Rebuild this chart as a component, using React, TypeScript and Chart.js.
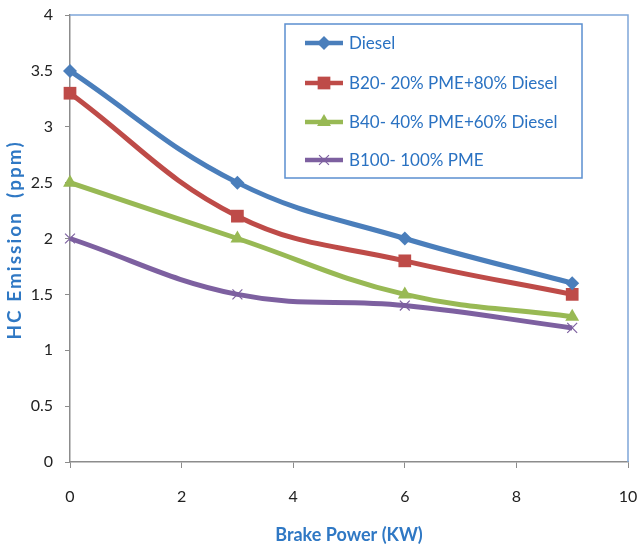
import React, { useEffect, useRef } from "react";
import { Chart, registerables } from "chart.js";

Chart.register(...registerables);

const brakePower = [0, 3, 6, 9];
const diesel = [3.5, 2.5, 2.0, 1.6];
const b20 = [3.3, 2.2, 1.8, 1.5];
const b40 = [2.5, 2.0, 1.5, 1.3];
const b100 = [2.0, 1.5, 1.4, 1.2];
const seriesNames = [
  "Diesel",
  "B20- 20% PME+80% Diesel",
  "B40- 40% PME+60% Diesel",
  "B100- 100% PME",
];
const seriesColors = ["#4a7ebb", "#be4b48", "#98b954", "#7d60a0"];
const seriesMarkers = ["rectRot", "rect", "triangle", "crossRot"];
const markerRadius = [7, 9, 8, 7];
const xTitle = "Brake Power (KW)";
const yTitle = "HC Emission  (ppm)";

const FONT = 'Lato, "Liberation Sans", Arial, sans-serif';
const TITLE_BLUE = "#2f78c4";

function drawMarker(ctx: CanvasRenderingContext2D, style: string, x: number, y: number, r: number, color: string) {
  ctx.save();
  ctx.fillStyle = color;
  ctx.strokeStyle = color;
  ctx.beginPath();
  if (style === "rectRot") {
    ctx.moveTo(x, y - r);
    ctx.lineTo(x + r, y);
    ctx.lineTo(x, y + r);
    ctx.lineTo(x - r, y);
    ctx.closePath();
    ctx.fill();
  } else if (style === "rect") {
    const s = r * Math.SQRT1_2;
    ctx.rect(x - s, y - s, 2 * s, 2 * s);
    ctx.fill();
  } else if (style === "triangle") {
    ctx.moveTo(x, y - r);
    ctx.lineTo(x + r * 0.87, y + r * 0.5);
    ctx.lineTo(x - r * 0.87, y + r * 0.5);
    ctx.closePath();
    ctx.fill();
  } else {
    const s = r * Math.SQRT1_2;
    ctx.lineWidth = 1.2;
    ctx.moveTo(x - s, y - s);
    ctx.lineTo(x + s, y + s);
    ctx.moveTo(x + s, y - s);
    ctx.lineTo(x - s, y + s);
    ctx.stroke();
  }
  ctx.restore();
}

const framePlugin = {
  id: "frameAndLegend",
  afterDraw(chart: any) {
    const { ctx, chartArea } = chart;
    ctx.save();
    // top and right frame
    ctx.strokeStyle = "#7fa6d9";
    ctx.lineWidth = 1.5;
    ctx.beginPath();
    ctx.moveTo(chartArea.left, chartArea.top);
    ctx.lineTo(chartArea.right, chartArea.top);
    ctx.lineTo(chartArea.right, chartArea.bottom);
    ctx.stroke();

    // y axis title
    ctx.save();
    ctx.translate(15, 241);
    ctx.rotate(-Math.PI / 2);
    ctx.fillStyle = TITLE_BLUE;
    ctx.font = `bold 19px ${FONT}`;
    ctx.textAlign = "center";
    ctx.textBaseline = "middle";
    const w0 = ctx.measureText(yTitle).width;
    const spacing = Math.min(2, Math.max(0, (205 - w0) / (yTitle.length - 1)));
    (ctx as any).letterSpacing = `${spacing.toFixed(2)}px`;
    ctx.fillText(yTitle, spacing / 2, 0);
    ctx.restore();

    // legend box
    const bx = 285, by = 24, bw = 297, bh = 154;
    ctx.fillStyle = "#ffffff";
    ctx.fillRect(bx, by, bw, bh);
    ctx.strokeStyle = "#5b8fd0";
    ctx.lineWidth = 1.5;
    ctx.strokeRect(bx, by, bw, bh);
    const rowY = [43, 83, 122, 160];
    chart.data.datasets.forEach((ds: any, i: number) => {
      const y = rowY[i];
      ctx.strokeStyle = ds.borderColor;
      ctx.lineWidth = 4.5;
      ctx.beginPath();
      ctx.moveTo(305, y);
      ctx.lineTo(343, y);
      ctx.stroke();
      drawMarker(ctx, seriesMarkers[i], 324, y, markerRadius[i], ds.borderColor);
      ctx.fillStyle = "#2a72c2";
      ctx.font = `17px ${FONT}`;
      ctx.textBaseline = "middle";
      ctx.textAlign = "left";
      ctx.fillText(ds.label, 349, y + 1);
    });
    ctx.restore();
  },
};

export default function App() {
  const ref = useRef<HTMLCanvasElement | null>(null);

  useEffect(() => {
    if (!ref.current) return;
    const seriesValues = [diesel, b20, b40, b100];
    const chart = new Chart(ref.current, {
      type: "line",
      data: {
        datasets: seriesValues.map((vals, i) => ({
          label: seriesNames[i],
          data: vals.map((v, j) => ({ x: brakePower[j], y: v })),
          borderColor: seriesColors[i],
          backgroundColor: seriesColors[i],
          borderWidth: 5,
          tension: 0.4,
          pointStyle: seriesMarkers[i] as any,
          pointRadius: markerRadius[i],
          pointBorderWidth: seriesMarkers[i] === "crossRot" ? 1.2 : 0,
          pointBorderColor: seriesColors[i],
          pointBackgroundColor: seriesColors[i],
          clip: false as any,
        })),
      },
      options: {
        animation: false,
        responsive: false,
        maintainAspectRatio: false,
        layout: { padding: { top: 15, right: 13, left: 0, bottom: 0 } },
        plugins: {
          legend: { display: false },
          tooltip: { enabled: false },
        },
        scales: {
          x: {
            type: "linear",
            min: 0,
            max: 10,
            afterFit: (s: any) => {
              s.height = 85;
              s.paddingLeft = 0;
              s.paddingRight = 0;
            },
            ticks: {
              stepSize: 2,
              color: "#222",
              padding: 19,
              font: { family: FONT, size: 16 },
            },
            grid: {
              display: true,
              drawOnChartArea: false,
              drawTicks: true,
              tickLength: 6,
              color: "#8c8c8c",
            },
            border: { color: "#8c8c8c", width: 1.5 },
            title: {
              display: true,
              text: xTitle,
              color: TITLE_BLUE,
              font: { family: FONT, size: 18, weight: "bold" },
              padding: { top: 2, bottom: 1 },
            },
          },
          y: {
            type: "linear",
            min: 0,
            max: 4,
            afterFit: (s: any) => {
              s.width = 70;
              s.paddingTop = 0;
              s.paddingBottom = 0;
            },
            ticks: {
              stepSize: 0.5,
              color: "#222",
              padding: 12,
              font: { family: FONT, size: 16 },
              callback: (v: any) => String(Number(v)),
            },
            grid: {
              display: true,
              drawOnChartArea: false,
              drawTicks: true,
              tickLength: 5,
              color: "#8c8c8c",
            },
            border: { color: "#8c8c8c", width: 1.5 },
            title: { display: false },
          },
        },
      },
      plugins: [framePlugin],
    });
    return () => chart.destroy();
  }, []);

  return (
    <div style={{ position: "fixed", left: 0, top: 0, width: 641, height: 547, background: "#fff" }}>
      <canvas ref={ref} width={641} height={547} style={{ display: "block", width: 641, height: 547 }} />
    </div>
  );
}
